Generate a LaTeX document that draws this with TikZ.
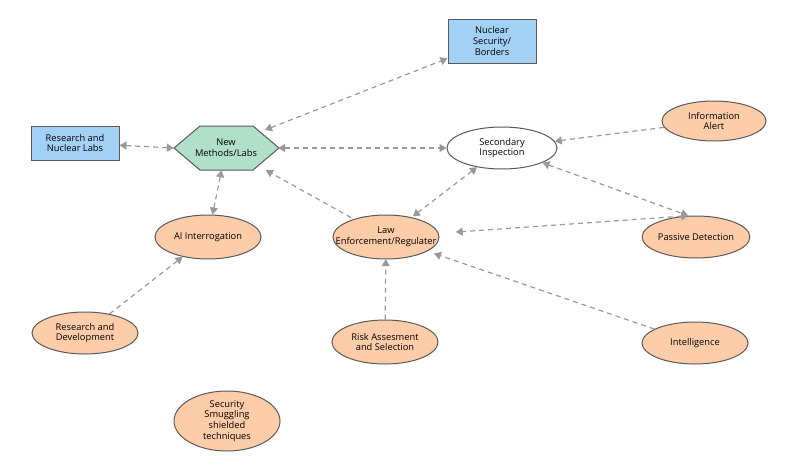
\documentclass[tikz,border=0pt]{standalone}
\usepackage{fontspec}
\setmainfont{Open Sans}
\usetikzlibrary{shapes.geometric,arrows.meta}
\definecolor{boxc}{HTML}{A3D0F5}
\definecolor{hexc}{HTML}{B0E0CA}
\definecolor{ellc}{HTML}{FDCCA8}
\begin{document}
\begin{tikzpicture}[x=1pt,y=-1pt,
  font=\fontsize{9.3}{10.8}\selectfont,
  box/.style={draw=black!65,line width=1pt,fill=boxc,minimum width=88pt,align=center,inner sep=1pt},
  ell/.style={draw=black!65,line width=1pt,ellipse,fill=ellc,minimum width=106pt,minimum height=42pt,align=center,inner sep=0pt},
  con/.style={draw=black!40,line width=1.2pt,dash pattern=on 5pt off 4pt},
  tip/.style={-{Triangle[width=8pt,length=7pt]}},
  tips/.style={{Triangle[width=8pt,length=7pt]}-{Triangle[width=8pt,length=7pt]}}]
\useasboundingbox (0,0) rectangle (800,474);
\node[box,minimum height=44pt] (nuc) at (492,41) {Nuclear\\Security/\\Borders};
\node[box,minimum height=34pt] (rnl) at (75,143) {Research and\\Nuclear Labs};
\draw[draw=black!65,line width=1pt,fill=hexc] (174,148)--(200,126)--(253,126)--(279,148)--(253,170)--(200,170)--cycle;
\node[minimum width=104pt,minimum height=44pt,align=center,inner sep=0pt] (nm) at (226,148) {New\\Methods/Labs};
\node[ell,fill=white,minimum width=110pt] (sec) at (502,148) {Secondary\\Inspection};
\node[ell,minimum width=104pt,minimum height=40pt] (info) at (714,121) {Information\\Alert};
\node[ell] (pas) at (696,237) {Passive Detection};
\node[ell,minimum height=44pt] (ai) at (208,237) {AI Interrogation};
\draw[draw=black!65,line width=1pt,fill=ellc] (386,237) ellipse (53pt and 22pt);
\node[minimum width=106pt,minimum height=44pt,inner sep=0pt,align=center,ellipse] (law) at (386,237) {Law\\Enforcement/Regulater};
\node[ell] (rd) at (85,333) {Research and\\Development};
\node[ell,minimum height=44pt] (risk) at (385,342) {Risk Assesment\\and Selection};
\node[ell] (int) at (695,343) {Intelligence};
\node[ell,minimum height=60pt] (sec2) at (227,421) {Security\\Smuggling\\shielded\\techniques};
\draw[con,tips] (265,130) -- (nuc);
\draw[con,tips] (rnl) -- (nm.west);
\draw[con,tips] (nm.east) -- (sec);
\draw[con,tip] (law) -- (nm);
\draw[con,tips] (nm) -- (ai);
\draw[con,tip] (rd) -- (ai);
\draw[con,tips] (sec) -- (law);
\draw[con,tip] (info) -- (sec);
\draw[con,tips] (sec) -- (pas.110);
\draw[con,tips] (pas.110) -- (law);
\draw[con,tip] (risk) -- (law);
\draw[con,tip] (int) -- (law);
\end{tikzpicture}
\end{document}
